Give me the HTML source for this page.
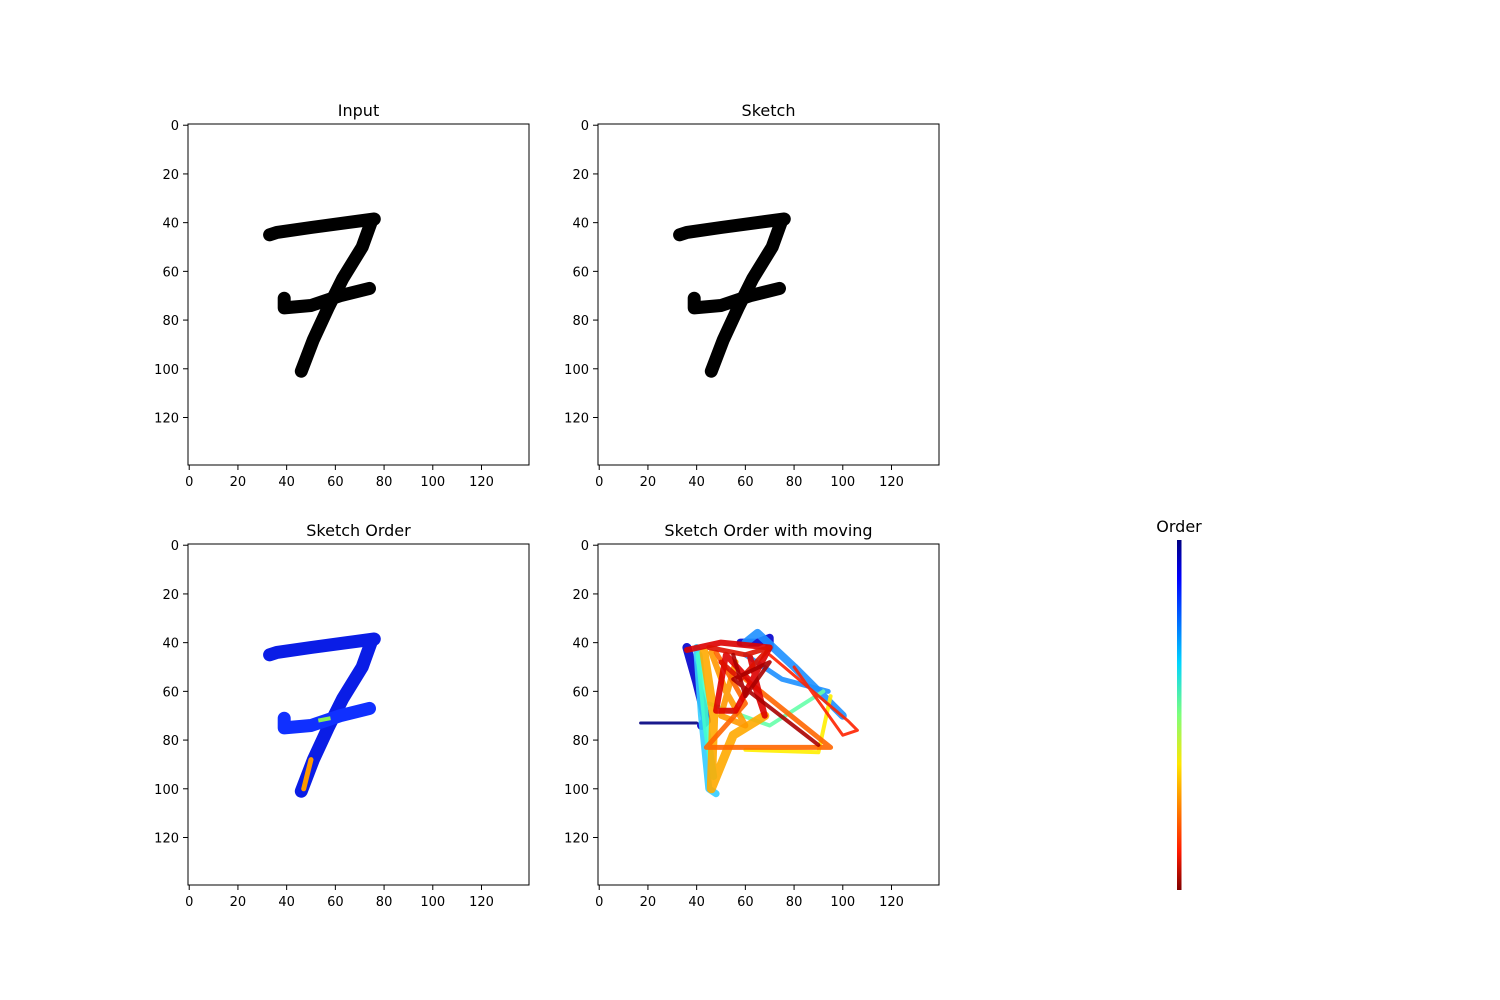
<!DOCTYPE html>
<html><head><meta charset="utf-8"><style>
body{margin:0;background:#fff}
svg{display:block;font-family:"DejaVu Sans","Liberation Sans",sans-serif}
</style></head><body>
<svg id="fig" width="1500" height="1000" viewBox="0 0 1500 1000">
<defs>
<linearGradient id="jet" x1="0" y1="0" x2="0" y2="1">
<stop offset="0" stop-color="#00007f"/><stop offset="0.11" stop-color="#0000ff"/>
<stop offset="0.35" stop-color="#00d4ff"/><stop offset="0.5" stop-color="#7dff7a"/>
<stop offset="0.64" stop-color="#ffe600"/><stop offset="0.89" stop-color="#ff1a00"/>
<stop offset="1" stop-color="#7f0000"/></linearGradient>
<clipPath id="c0"><rect x="188" y="124" width="341" height="341"/></clipPath>
<clipPath id="c1"><rect x="598" y="124" width="342" height="341"/></clipPath>
<clipPath id="c2"><rect x="188" y="544" width="341" height="341"/></clipPath>
<clipPath id="c3"><rect x="598" y="544" width="342" height="341"/></clipPath>
</defs>
<text x="1179" y="532" font-size="16" text-anchor="middle">Order</text>
<rect x="1177" y="540" width="4.5" height="350" fill="url(#jet)"/>
</svg>
<script>
const axesBoxes=[[188,124,"Input"],[598,124,"Sketch"],[188,544,"Sketch Order"],[598,544,"Sketch Order with moving"]];
const tickValues=[0,20,40,60,80,100,120];
const topBar=[[33,45],[36,44],[50,42],[65,40],[76,38.5]];
const diagonal=[[75,39],[71,50],[63,63],[57,75],[51,88],[46,101]];
const crossBar=[[39,71],[39,75],[50,74],[62,70],[74,67]];
const orderColors=["#0a1de6","#0a1de6","#1030ff"];
const movingStrokes=[
 {c:"#000080",w:3,p:[[17,73],[40,73]]},
 {c:"#0000cc",w:9,p:[[36,42],[40,56],[44,72],[42,74]]},
 {c:"#0000cc",w:8,p:[[58,40],[65,40],[70,38],[70,42]]},
 {c:"#1e90ff",w:8,p:[[60,40],[65,36],[80,50],[100,70]]},
 {c:"#1e90ff",w:5,p:[[60,45],[75,55],[94,60]]},
 {c:"#33ccff",w:7,p:[[40,42],[42,70],[45,100],[48,102]]},
 {c:"#44ffcc",w:7,p:[[41,45],[44,75],[47,95]]},
 {c:"#66ffaa",w:4,p:[[45,65],[70,74],[92,60]]},
 {c:"#ffee00",w:4,p:[[60,84],[90,85],[95,62]]},
 {c:"#ffaa00",w:9,p:[[43,44],[47,70],[46,100],[55,78],[68,70]]},
 {c:"#ff9900",w:6,p:[[46,44],[52,60],[60,74],[50,70],[56,48]]},
 {c:"#ff6600",w:5,p:[[48,44],[60,65],[44,83],[95,83],[60,55]]},
 {c:"#ff2200",w:3,p:[[70,45],[102,72],[106,76],[100,78],[80,50]]},
 {c:"#dd0000",w:6,p:[[36,43],[50,40],[70,42],[56,68],[48,68],[52,45],[64,58],[68,70],[62,46]]},
 {c:"#dd1100",w:5,p:[[45,42],[60,45],[70,42],[58,55],[50,48]]},
 {c:"#aa0000",w:4,p:[[55,45],[60,62],[70,48],[55,55],[90,82]]}
];
const svg=document.getElementById('fig');
const NS="http://www.w3.org/2000/svg";
function el(t,a,par){const e=document.createElementNS(NS,t);for(const k in a)e.setAttribute(k,a[k]);(par||svg).appendChild(e);return e;}
const S=341/140;
axesBoxes.forEach((b,i)=>{
 const [x0,y0,title]=b;
 const sx=v=>x0+(v+0.5)*S, sy=v=>y0+(v+0.5)*S;
 const g=el('g',{'clip-path':`url(#c${i})`});
 
 
 const pts=a=>a.map(p=>sx(p[0]).toFixed(1)+','+sy(p[1]).toFixed(1)).join(' ');
 if(i<3){
  const col=i<2?"#000":null;
  [topBar,diagonal,crossBar].forEach((s,k)=>{
   const pl=el('polyline',{points:pts(s),fill:'none',stroke:col||orderColors[k],'stroke-width':13,'stroke-linecap':'round','stroke-linejoin':'round'},g);
   
   
  });
  if(i===2){
   const a=el('polyline',{points:pts([[47,100],[50,88]]),fill:'none',stroke:'#ff9900','stroke-width':5,'stroke-linecap':'round'},g);
   
   
   const b2=el('polyline',{points:pts([[53,72],[58,71]]),fill:'none',stroke:'#88ee55','stroke-width':4},g);
   
   
  }
 } else {
  movingStrokes.forEach(s=>{
   const pl=el('polyline',{points:pts(s.p),fill:'none',stroke:s.c,'stroke-width':s.w,'stroke-linecap':'round','stroke-linejoin':'round','stroke-opacity':0.9},g);
   
   
  });
 }
 const fr=el('rect',{x:x0,y:y0,width:341,height:341,fill:'none',stroke:'#000','stroke-width':1});
 
 
 const t=el('text',{x:x0+170.5,y:y0-8,'font-size':16,'text-anchor':'middle'});
 t.textContent=title;
 
 
 tickValues.forEach(v=>{
  const px=sx(v), py=sy(v);
  el('line',{x1:px,x2:px,y1:y0+341,y2:y0+346,stroke:'#000'});
  const tx=el('text',{x:px,y:y0+362,'font-size':13,'text-anchor':'middle'});
  tx.textContent=v;
  
  
  el('line',{x1:x0-5,x2:x0,y1:py,y2:py,stroke:'#000'});
  const ty=el('text',{x:x0-9,y:py+5,'font-size':13,'text-anchor':'end'});
  ty.textContent=v;
  
  
 });
});
</script>
</body></html>
